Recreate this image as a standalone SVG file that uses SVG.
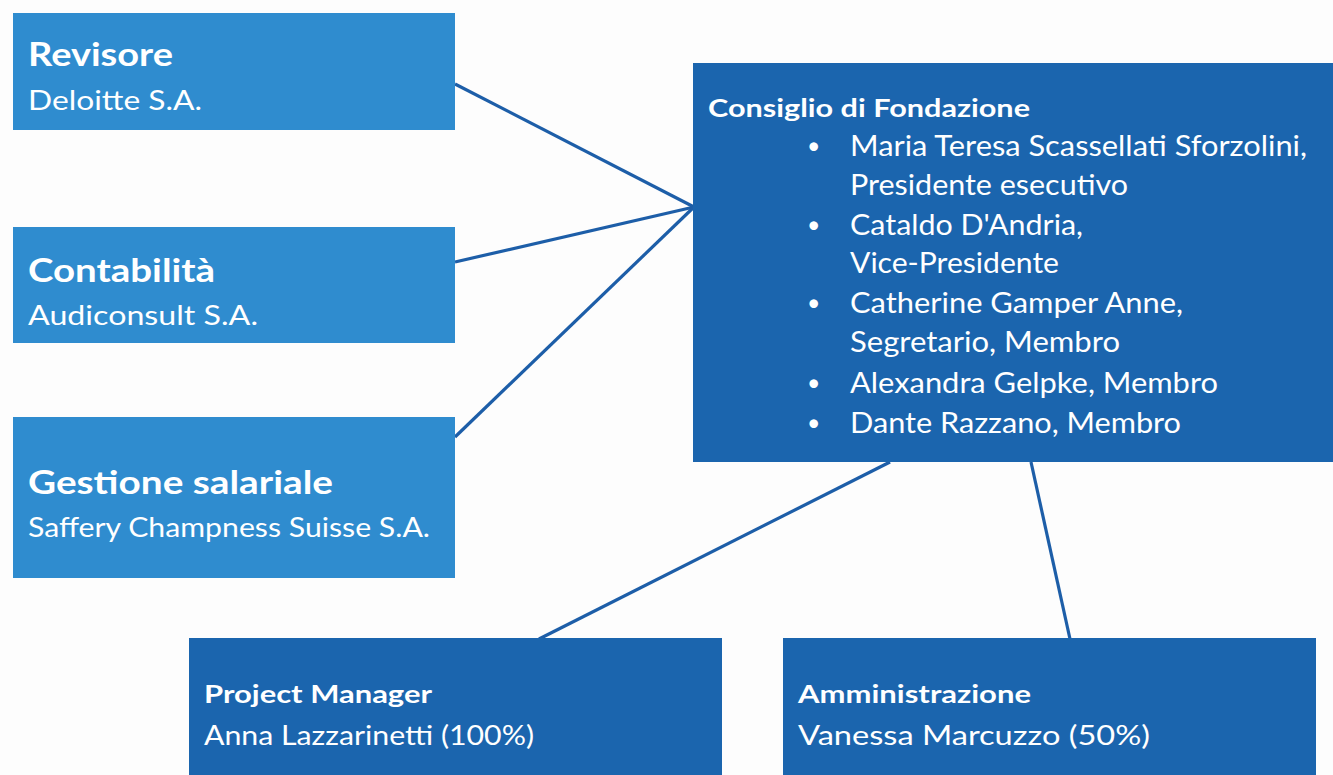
<svg xmlns="http://www.w3.org/2000/svg" width="1333" height="775" viewBox="0 0 1333 775">
<style>
.light{fill:#2f8ccf}
.dark{fill:#1b65ae}
.t{font-family:Lato,"Open Sans","Liberation Sans",sans-serif;fill:#ffffff}
.h{font-weight:bold}
.b{font-size:23px}
.conn{stroke:#1d5ea8;stroke-width:3.2;fill:none}
</style>
<rect width="1333" height="775" fill="#fdfdfd"/>
<g id="connectors">
<line class="conn" x1="455" y1="84" x2="694" y2="207"/>
<line class="conn" x1="455" y1="262" x2="694" y2="207"/>
<line class="conn" x1="455" y1="437" x2="694" y2="207"/>
<line class="conn" x1="890" y1="462" x2="539" y2="639"/>
<line class="conn" x1="1031" y1="462" x2="1070" y2="639"/>
</g>
<g id="revisore">
<rect class="light" x="13" y="13" width="442" height="117"/>
<text class="t h" x="28" y="66" font-size="33" textLength="145" lengthAdjust="spacingAndGlyphs">Revisore</text>
<text class="t" x="28" y="110" font-size="27" textLength="174" lengthAdjust="spacingAndGlyphs">Deloitte S.A.</text>
</g>
<g id="contabilita">
<rect class="light" x="13" y="227" width="442" height="116"/>
<text class="t h" x="28" y="282" font-size="33" textLength="187" lengthAdjust="spacingAndGlyphs">Contabilità</text>
<text class="t" x="28" y="325" font-size="27" textLength="230" lengthAdjust="spacingAndGlyphs">Audiconsult S.A.</text>
</g>
<g id="gestione">
<rect class="light" x="13" y="417" width="442" height="161"/>
<text class="t h" x="28" y="494" font-size="33" textLength="305" lengthAdjust="spacingAndGlyphs">Gestione salariale</text>
<text class="t" x="28" y="537" font-size="27" textLength="402" lengthAdjust="spacingAndGlyphs">Saffery Champness Suisse S.A.</text>
</g>
<g id="consiglio">
<rect class="dark" x="693" y="63" width="640" height="399"/>
<text class="t h" x="708" y="117" font-size="25" textLength="322" lengthAdjust="spacingAndGlyphs">Consiglio di Fondazione</text>
<g font-size="29">
<text class="t b" x="807" y="154">•</text>
<text class="t" x="850" y="156" textLength="457" lengthAdjust="spacingAndGlyphs">Maria Teresa Scassellati Sforzolini,</text>
<text class="t" x="850" y="195" textLength="278" lengthAdjust="spacingAndGlyphs">Presidente esecutivo</text>
<text class="t b" x="807" y="233">•</text>
<text class="t" x="850" y="235" textLength="233" lengthAdjust="spacingAndGlyphs">Cataldo D'Andria,</text>
<text class="t" x="850" y="273" textLength="209" lengthAdjust="spacingAndGlyphs">Vice-Presidente</text>
<text class="t b" x="807" y="311">•</text>
<text class="t" x="850" y="313" textLength="333" lengthAdjust="spacingAndGlyphs">Catherine Gamper Anne,</text>
<text class="t" x="850" y="352" textLength="270" lengthAdjust="spacingAndGlyphs">Segretario, Membro</text>
<text class="t b" x="807" y="391">•</text>
<text class="t" x="850" y="393" textLength="368" lengthAdjust="spacingAndGlyphs">Alexandra Gelpke, Membro</text>
<text class="t b" x="807" y="431">•</text>
<text class="t" x="850" y="433" textLength="331" lengthAdjust="spacingAndGlyphs">Dante Razzano, Membro</text>
</g>
</g>
<g id="project-manager">
<rect class="dark" x="189" y="638" width="533" height="137"/>
<text class="t h" x="204" y="703" font-size="25" textLength="228" lengthAdjust="spacingAndGlyphs">Project Manager</text>
<text class="t" x="204" y="745" font-size="26" textLength="330" lengthAdjust="spacingAndGlyphs">Anna Lazzarinetti (100%)</text>
</g>
<g id="amministrazione">
<rect class="dark" x="783" y="638" width="533" height="137"/>
<text class="t h" x="798" y="703" font-size="25" textLength="233" lengthAdjust="spacingAndGlyphs">Amministrazione</text>
<text class="t" x="798" y="745" font-size="26" textLength="352" lengthAdjust="spacingAndGlyphs">Vanessa Marcuzzo (50%)</text>
</g>
</svg>
